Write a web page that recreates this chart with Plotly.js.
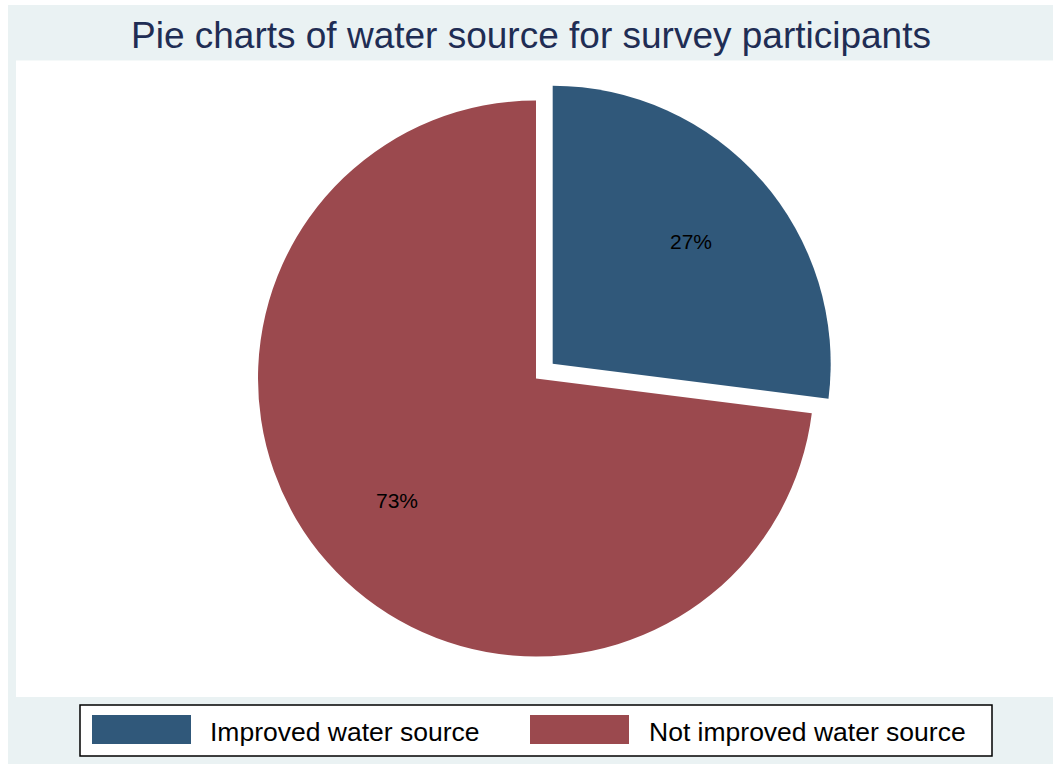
<!DOCTYPE html>
<html>
<head>
<meta charset="utf-8">
<script src="https://cdn.plot.ly/plotly-3.0.1.min.js"></script>
<style>html,body{margin:0;padding:0;background:#fff;}#chart{width:1053px;height:764px;}</style>
</head>
<body>
<div id="chart"></div>
<script>
const labels = ["Improved water source", "Not improved water source"];
const values = [27, 73];
const colors = ["#30587a", "#9b494e"];
const pulls = [0.08, 0];
const titleText = "Pie charts of water source for survey participants";

const W = 1053, H = 764;
const px = x => x / W;
const py = y => 1 - y / H;

// pie placement (pixels)
const CX = 536, CY = 378.5, R = 278;

const trace = {
  type: "pie",
  labels: labels,
  values: values,
  sort: false,
  direction: "clockwise",
  rotation: 0,
  pull: pulls,
  marker: {colors: colors, line: {width: 0}},
  textinfo: "none",
  hoverinfo: "none",
  showlegend: false,
  domain: {x: [px(CX - 400), px(CX + 400)], y: [py(CY + R * (1 + Math.max(...pulls))), py(CY - R * (1 + Math.max(...pulls)))]}
};

const shapes = [
  {type: "rect", xref: "paper", yref: "paper", x0: px(8), x1: 1, y0: 0, y1: py(5), fillcolor: "#eaf2f3", line: {width: 0}, layer: "below"},
  {type: "rect", xref: "paper", yref: "paper", x0: px(16), x1: 1, y0: py(697), y1: py(60.5), fillcolor: "#ffffff", line: {width: 0}, layer: "below"},
  {type: "rect", xref: "paper", yref: "paper", x0: px(80), x1: px(992), y0: py(756), y1: py(705), fillcolor: "#ffffff", line: {color: "#000", width: 1.5}, layer: "below"}
];
const annotations = [
  {text: titleText, xref: "paper", yref: "paper", x: px(530.5), y: py(36), xanchor: "center", yanchor: "middle", showarrow: false,
   font: {family: "Liberation Sans, Arial, sans-serif", size: 37, color: "#1f2d54"}}
];

// slice percentage labels at 2/3 radius along each slice's bisector (Stata style)
const total = values.reduce((a, b) => a + b, 0);
let cum = 0;
values.forEach((v, i) => {
  const mid = (cum + v / 2) / total * 2 * Math.PI;
  cum += v;
  const off = pulls[i] * R;
  const rr = off + 0.665 * R;
  const x = CX + rr * Math.sin(mid);
  const y = CY - rr * Math.cos(mid);
  annotations.push({text: Math.round(v / total * 100) + "%", xref: "paper", yref: "paper", x: px(x), y: py(y),
    xanchor: "center", yanchor: "middle", showarrow: false,
    font: {family: "Liberation Sans, Arial, sans-serif", size: 21, color: "#000"}});
});

const keyX = [92, 530];
const textX = [208, 647];
labels.forEach((lab, i) => {
  shapes.push({type: "rect", xref: "paper", yref: "paper", x0: px(keyX[i]), x1: px(keyX[i] + 99), y0: py(744), y1: py(715),
    fillcolor: colors[i], line: {width: 0}});
  annotations.push({text: lab, xref: "paper", yref: "paper", x: px(textX[i]), y: py(731.5), xanchor: "left", yanchor: "middle",
    showarrow: false, font: {family: "Liberation Sans, Arial, sans-serif", size: 26.5, color: "#000"}});
});

const layout = {
  width: W, height: H,
  margin: {l: 0, r: 0, t: 0, b: 0},
  paper_bgcolor: "#ffffff",
  showlegend: false,
  shapes: shapes,
  annotations: annotations
};
Plotly.newPlot("chart", [trace], layout, {displayModeBar: false, staticPlot: true});
</script>
</body>
</html>
